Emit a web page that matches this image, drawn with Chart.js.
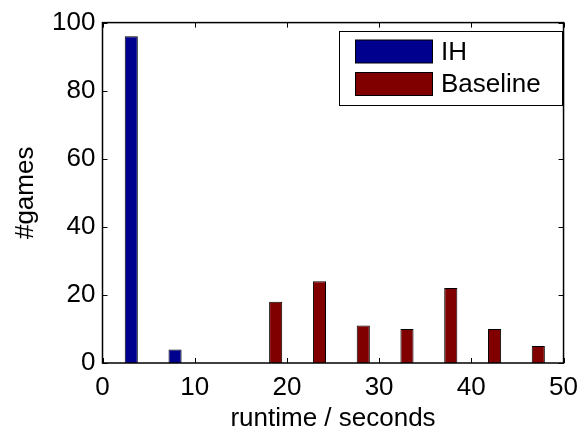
<!DOCTYPE html>
<html>
<head>
<meta charset="utf-8">
<script src="https://cdn.jsdelivr.net/npm/chart.js@4.4.0/dist/chart.umd.min.js"></script>
<style>
  html, body { margin: 0; padding: 0; background: #fff; }
  #wrap { width: 587px; height: 434px; }
</style>
</head>
<body>
<div id="wrap"><canvas id="c" width="587" height="434"></canvas></div>
<script>
// ---- data ----
const binCenters = [3.83, 8.58, 13.32, 18.07, 22.82, 27.57, 32.31, 37.06, 41.81, 46.55];
const ihCounts = [96, 4, 0, 0, 0, 0, 0, 0, 0, 0];
const baselineCounts = [0, 0, 0, 18, 24, 11, 10, 22, 10, 5];
const seriesNames = ['IH', 'Baseline'];
const xTicks = [0, 10, 20, 30, 40, 50];
const yTicks = [0, 20, 40, 60, 80, 100];
const xTitle = 'runtime / seconds';
const yTitle = '#games';

const FONT = 'Liberation Sans, Arial, Helvetica, sans-serif';
const FS = 26;
const colors = ['rgb(0,0,143)', 'rgb(128,0,0)'];

const toPts = arr => arr.map((v, i) => ({ x: binCenters[i], y: v }));

// box + inward ticks
const boxPlugin = {
  id: 'boxPlugin',
  afterDatasetsDraw(chart) {
    const { ctx, chartArea: a, scales } = chart;
    const L = 5;
    ctx.save();
    ctx.strokeStyle = '#000';
    ctx.lineWidth = 1;
    ctx.beginPath();
    xTicks.forEach(v => {
      const x = Math.round(scales.x.getPixelForValue(v)) + 0.5;
      ctx.moveTo(x, a.bottom); ctx.lineTo(x, a.bottom - L);
      ctx.moveTo(x, a.top); ctx.lineTo(x, a.top + L);
    });
    yTicks.forEach(v => {
      const y = Math.round(scales.y.getPixelForValue(v)) + 0.5;
      ctx.moveTo(a.left, y); ctx.lineTo(a.left + L, y);
      ctx.moveTo(a.right, y); ctx.lineTo(a.right - L, y);
    });
    ctx.stroke();
    ctx.lineWidth = 1.5;
    ctx.strokeRect(a.left, a.top, a.right - a.left, a.bottom - a.top);
    ctx.restore();
  }
};

// MATLAB-style legend box
const legendPlugin = {
  id: 'boxLegend',
  afterDraw(chart) {
    const { ctx } = chart;
    const bx = 339.5, by = 31.5, bw = 223, bh = 74;
    ctx.save();
    ctx.fillStyle = '#fff';
    ctx.fillRect(bx, by, bw, bh);
    ctx.strokeStyle = '#000';
    ctx.lineWidth = 1;
    ctx.strokeRect(bx, by, bw, bh);
    const rows = [40, 72.5];
    chart.data.datasets.forEach((ds, i) => {
      const y = rows[i];
      ctx.fillStyle = ds.backgroundColor;
      ctx.fillRect(355.5, y, 77, 23);
      ctx.strokeStyle = '#000';
      ctx.strokeRect(355.5, y, 77, 23);
      ctx.fillStyle = '#000';
      ctx.font = FS + 'px ' + FONT;
      ctx.textBaseline = 'middle';
      ctx.textAlign = 'left';
      ctx.fillText(ds.label, 441, y + 12.5);
    });
    ctx.restore();
  }
};

new Chart(document.getElementById('c'), {
  type: 'bar',
  data: {
    datasets: [
      { label: seriesNames[0], data: toPts(ihCounts), backgroundColor: colors[0], borderColor: '#000', borderWidth: 1 },
      { label: seriesNames[1], data: toPts(baselineCounts), backgroundColor: colors[1], borderColor: '#000', borderWidth: 1 }
    ]
  },
  options: {
    responsive: false,
    animation: false,
    categoryPercentage: 0.6,
    barPercentage: 1.0,
    layout: { padding: { left: 0, top: 18, right: 20, bottom: 0 } },
    plugins: {
      legend: { display: false },
      tooltip: { enabled: false }
    },
    scales: {
      x: {
        type: 'linear',
        min: 0, max: 50,
        offset: false,
        grid: { display: false, drawTicks: false },
        border: { display: false },
        afterBuildTicks: s => { s.ticks = xTicks.map(v => ({ value: v })); },
        ticks: { color: '#000', font: { family: FONT, size: FS }, padding: 9, maxRotation: 0, autoSkip: false },
        title: { display: true, text: xTitle, color: '#000', font: { family: FONT, size: FS }, padding: { top: 0, bottom: 0 } },
        afterFit: s => { s.height = 71; }
      },
      y: {
        min: 0, max: 100,
        grid: { display: false, drawTicks: false },
        border: { display: false },
        afterBuildTicks: s => { s.ticks = yTicks.map(v => ({ value: v })); },
        ticks: { color: '#000', font: { family: FONT, size: FS }, padding: 7 },
        title: { display: true, text: yTitle, color: '#000', font: { family: FONT, size: FS }, padding: { top: 10.5, bottom: 0 } },
        afterFit: s => { s.width = 102.5; }
      }
    }
  },
  plugins: [boxPlugin, legendPlugin]
});
</script>
</body>
</html>
